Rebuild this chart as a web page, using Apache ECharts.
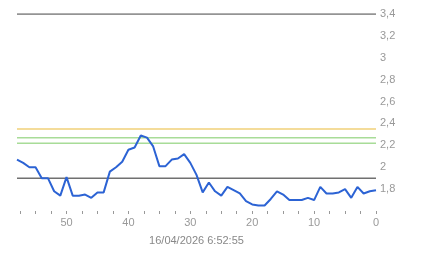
<!DOCTYPE html>
<html>
<head>
<meta charset="utf-8">
<script src="https://cdn.jsdelivr.net/npm/echarts@6/dist/echarts.min.js"></script>
<style>html,body{margin:0;padding:0;background:#fff}#c{width:443px;height:258px}</style>
</head>
<body>
<div id="c"></div>
<script>
var xValues = [58,57,56,55,54,53,52,51,50,49,48,47,46,45,44,43,42,41,40,39,38,37,36,35,34,33,32,31,30,29,28,27,26,25,24,23,22,21,20,19,18,17,16,15,14,13,12,11,10,9,8,7,6,5,4,3,2,1,0];
var yValues = [2.07,2.04,2.00,2.00,1.90,1.90,1.78,1.74,1.91,1.74,1.74,1.75,1.72,1.77,1.77,1.96,2.00,2.05,2.16,2.18,2.29,2.27,2.19,2.01,2.01,2.07,2.08,2.12,2.04,1.93,1.77,1.86,1.78,1.74,1.82,1.79,1.76,1.69,1.66,1.65,1.65,1.71,1.78,1.75,1.70,1.70,1.70,1.72,1.70,1.82,1.76,1.76,1.77,1.80,1.72,1.82,1.76,1.78,1.79];
var darkLines = [3.4, 1.9];
var yellowLines = [2.35];
var greenLines = [2.27, 2.22];
var xAxisName = '16/04/2026 6:52:55';

var seriesData = xValues.map(function (x, i) { return [x, yValues[i]]; });
var xMin = 0, xMax = 58;

function hLine(v, color) {
  return {
    type: 'line', silent: true, symbol: 'none', showSymbol: false, z: 1,
    data: [[xMin, v], [xMax, v]],
    lineStyle: { color: color, width: 1.5 },
    emphasis: { disabled: true }
  };
}

var series = [];
darkLines.forEach(function (v) { series.push(hLine(v, '#707070')); });
yellowLines.forEach(function (v) { series.push(hLine(v, '#f0d078')); });
greenLines.forEach(function (v) { series.push(hLine(v, '#a8dc98')); });
series.push({
  type: 'line', data: seriesData, showSymbol: false, symbol: 'none', z: 3,
  lineStyle: { color: '#2c63d4', width: 2 }
});

var chart = echarts.init(document.getElementById('c'), null, { renderer: 'canvas' });
chart.setOption({
  animation: false,
  grid: { left: 17, right: 67, top: 14, bottom: 47 },
  xAxis: {
    type: 'value', inverse: true, min: xMin, max: xMax, interval: 2.5,
    name: xAxisName, nameLocation: 'middle', nameGap: 24,
    nameTextStyle: { color: '#888', fontSize: 11, fontFamily: 'Liberation Sans, Arial' },
    axisLine: { show: false },
    axisTick: { show: true, length: 3, lineStyle: { color: '#999' } },
    splitLine: { show: false },
    axisLabel: {
      color: '#999', fontSize: 11, fontFamily: 'Liberation Sans, Arial', margin: 6,
      showMaxLabel: false,
      formatter: function (v) { return (Math.abs(v % 10) < 1e-6) ? String(v) : ''; }
    }
  },
  yAxis: {
    type: 'value', position: 'right', min: 1.6, max: 3.4, interval: 0.2,
    axisLine: { show: false }, axisTick: { show: false }, splitLine: { show: false },
    axisLabel: {
      color: '#999', fontSize: 11, fontFamily: 'Liberation Sans, Arial', margin: 4,
      padding: [4, 0, 0, 0],
      showMinLabel: false,
      formatter: function (v) { return String(Math.round(v * 10) / 10).replace('.', ','); }
    }
  },
  series: series
});
</script>
</body>
</html>
